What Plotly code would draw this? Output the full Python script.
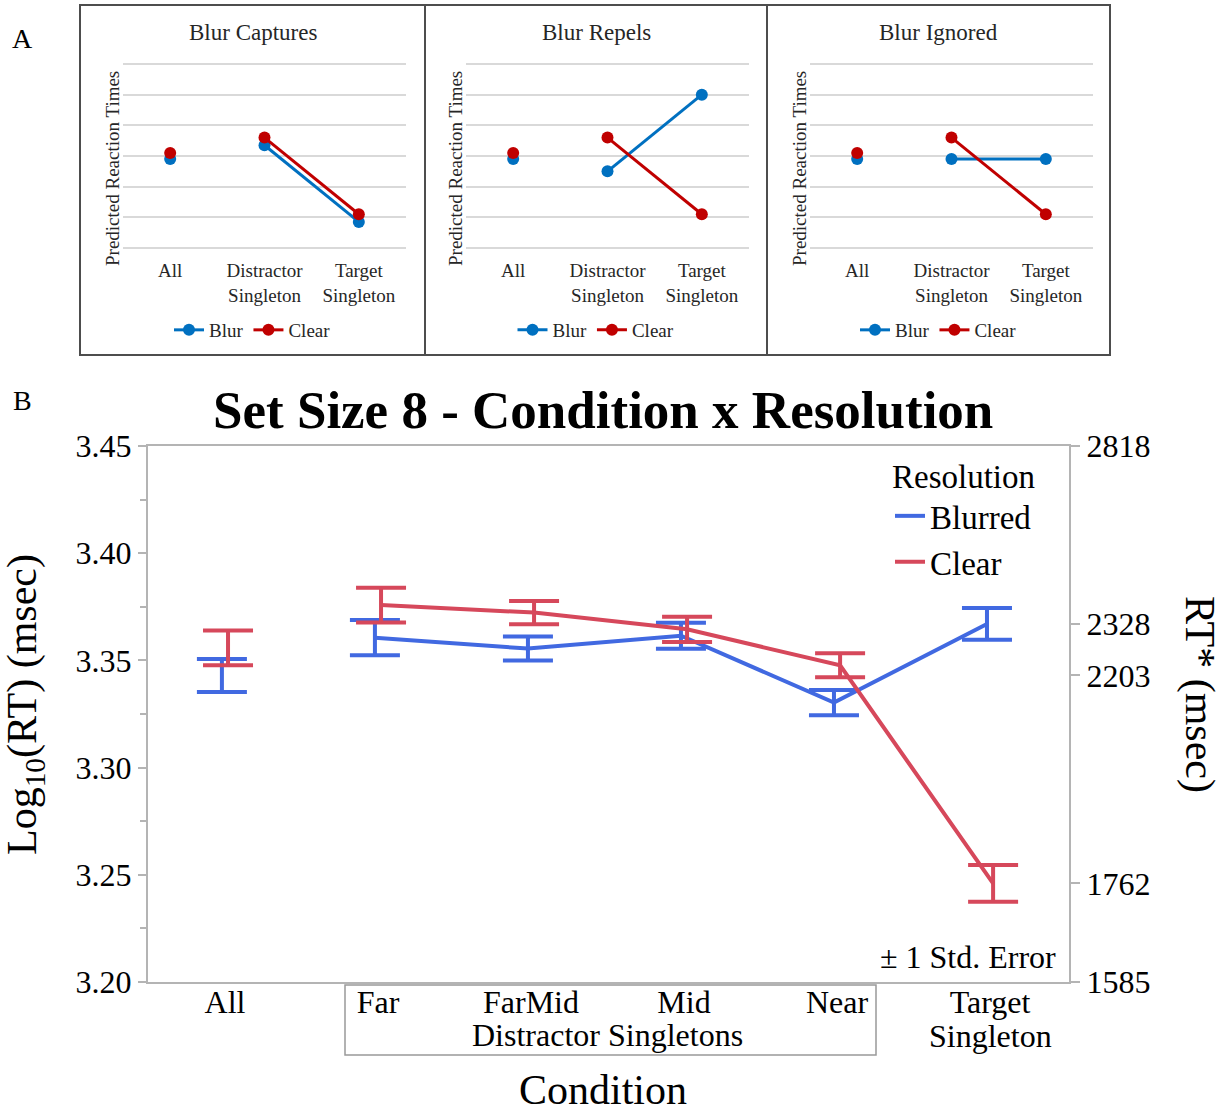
import math
import plotly.graph_objects as go

# ---------------- data ----------------
# Panel A: hypothetical predicted reaction times (arbitrary units)
a_categories = ["All", "Distractor<br>Singleton", "Target<br>Singleton"]
a_titles = ["Blur Captures", "Blur Repels", "Blur Ignored"]
captures_blur = [2.9, 3.35, 0.85]
captures_clear = [3.1, 3.6, 1.1]
repels_blur = [2.9, 2.5, 5.0]
repels_clear = [3.1, 3.6, 1.1]
ignored_blur = [2.9, 2.9, 2.9]
ignored_clear = [3.1, 3.6, 1.1]

# Panel B: set size 8, log10 RT means with standard errors
b_conditions = ["All", "Far", "FarMid", "Mid", "Near", "Target"]
b_group_label = "Distractor Singletons"
b_target_second_line = "Singleton"
blurred_log_rt = [3.343, 3.3606, 3.3555, 3.3615, 3.3303, 3.367]
blurred_se = [0.0077, 0.0082, 0.0056, 0.0061, 0.0059, 0.0074]
clear_log_rt = [3.3558, 3.3758, 3.3723, 3.3645, 3.3477, 3.246]
clear_se = [0.0081, 0.0081, 0.0054, 0.0059, 0.0056, 0.0086]
left_ticks = [3.20, 3.25, 3.30, 3.35, 3.40, 3.45]
rt_ticks = [1585, 1762, 2203, 2328, 2818]

# ---------------- geometry helpers ----------------
W, H = 1231, 1112
SERIF = "Liberation Serif, Times New Roman, serif"


def px(x):
    return x / W


def py(y):
    return 1 - y / H


A_BLUE = "rgb(0,112,192)"
A_RED = "rgb(192,0,0)"
B_BLUE = "#4169E1"
B_RED = "#D6485B"
GRAY = "#b4b4b4"

fig = go.Figure()
fig.update_layout(template="none")

# ---------------- panel A ----------------
panel_a = [
    (captures_blur, captures_clear, (123, 406), (80, 425)),
    (repels_blur, repels_clear, (466, 749), (425, 767)),
    (ignored_blur, ignored_clear, (810, 1093), (767, 1110)),
]
a_pos = list(range(len(a_categories)))

for i, (blur, clear, (x0, x1), (bx0, bx1)) in enumerate(panel_a):
    sfx = "" if i == 0 else str(i + 1)
    xa, ya = "x" + sfx, "y" + sfx
    leg = "legend" + sfx
    for name, vals, col in (("Blur", blur, A_BLUE), ("Clear", clear, A_RED)):
        # isolated "All" point
        fig.add_trace(go.Scatter(
            x=a_pos[:1], y=vals[:1], mode="markers", xaxis=xa, yaxis=ya,
            marker=dict(color=col, size=12), showlegend=False, hoverinfo="skip"))
        # distractor singleton -> target singleton
        fig.add_trace(go.Scatter(
            x=a_pos[1:], y=vals[1:], mode="lines+markers", xaxis=xa, yaxis=ya,
            name=name, legend=leg,
            line=dict(color=col, width=3), marker=dict(color=col, size=12)))

    fig.update_layout({
        "xaxis" + sfx: dict(domain=[px(x0), px(x1)], range=[-0.5, 2.5],
                            tickvals=a_pos, ticktext=a_categories, showgrid=False,
                            zeroline=False, showline=False, ticks="", anchor=ya,
                            automargin=False,
                            tickfont=dict(family=SERIF, size=19, color="#262626")),
        "yaxis" + sfx: dict(domain=[py(257.2), py(54.8)], range=[-0.3, 6.3],
                            dtick=1, tick0=0, showticklabels=False, showgrid=True,
                            gridcolor="#d9d9d9", gridwidth=1.5, zeroline=False,
                            showline=False, ticks="", anchor=xa, automargin=False),
        leg: dict(orientation="h", x=px((bx0 + bx1) / 2), xanchor="center",
                  y=py(311), yanchor="top", bgcolor="rgba(0,0,0,0)",
                  font=dict(family=SERIF, size=19, color="#262626"),
                  itemwidth=30, tracegroupgap=0),
    })
    fig.add_shape(type="rect", xref="paper", yref="paper",
                  x0=px(bx0), x1=px(bx1), y0=py(355), y1=py(5),
                  line=dict(color="#4d4d4d", width=2))
    fig.add_annotation(text=a_titles[i], xref="paper", yref="paper",
                       x=px((bx0 + bx1) / 2), y=py(32), xanchor="center",
                       yanchor="middle", showarrow=False,
                       font=dict(family=SERIF, size=23, color="#262626"))
    fig.add_annotation(text="Predicted Reaction Times", xref="paper", yref="paper",
                       x=px(x0 - 11), y=py(169), xanchor="center", yanchor="middle",
                       textangle=-90, showarrow=False,
                       font=dict(family=SERIF, size=19, color="#262626"))

# ---------------- panel B ----------------
b_pos = list(range(len(b_conditions)))
shift = 0.02
for name, vals, se, col, dx in (("Blurred", blurred_log_rt, blurred_se, B_BLUE, -shift),
                                ("Clear", clear_log_rt, clear_se, B_RED, shift)):
    xs = [p + dx for p in b_pos]
    fig.add_trace(go.Scatter(
        x=xs[:1], y=vals[:1], mode="lines", xaxis="x4", yaxis="y4",
        line=dict(color=col, width=4), showlegend=False, hoverinfo="skip",
        error_y=dict(type="data", array=se[:1], color=col, thickness=4, width=25)))
    fig.add_trace(go.Scatter(
        x=xs[1:], y=vals[1:], mode="lines", xaxis="x4", yaxis="y4",
        name=name, legend="legend4", line=dict(color=col, width=4),
        error_y=dict(type="data", array=se[1:], color=col, thickness=4, width=25)))

# right-hand RT axis shares the log scale
fig.add_trace(go.Scatter(x=[], y=[], xaxis="x4", yaxis="y5", showlegend=False,
                         hoverinfo="skip"))

tick_font = dict(family=SERIF, size=32, color="black")
fig.update_layout(
    xaxis4=dict(domain=[px(148), px(1069)], range=[-0.503, 5.516], anchor="y4",
                tickvals=b_pos, ticktext=b_conditions, ticks="", showgrid=False,
                zeroline=False, showline=True, mirror=True, linecolor=GRAY,
                linewidth=2, tickfont=tick_font, automargin=False,
                ticklabelstandoff=-9),
    yaxis4=dict(domain=[py(982), py(446)], range=[3.20, 3.45], anchor="x4",
                tickvals=left_ticks, ticktext=[f"{v:.2f}" for v in left_ticks],
                ticks="outside", ticklen=8, tickwidth=1.5, tickcolor=GRAY,
                minor=dict(tick0=3.2, dtick=0.025, ticks="outside", ticklen=6,
                           tickcolor=GRAY, tickwidth=1.5, showgrid=False),
                showgrid=False, zeroline=False, showline=True, mirror=True,
                linecolor=GRAY, linewidth=2, tickfont=tick_font, automargin=False),
    yaxis5=dict(overlaying="y4", side="right", anchor="x4", range=[3.20, 3.45],
                tickvals=[math.log10(v) for v in rt_ticks],
                ticktext=[str(v) for v in rt_ticks], ticks="outside", ticklen=10,
                tickwidth=1.5, tickcolor=GRAY, showgrid=False, zeroline=False,
                showline=False, tickfont=tick_font, automargin=False),
    legend4=dict(title=dict(text="Resolution", side="top",
                            font=dict(family=SERIF, size=33, color="black")),
                 x=px(890), xanchor="left", y=py(445), yanchor="top",
                 bgcolor="rgba(0,0,0,0)", itemwidth=30,
                 font=dict(family=SERIF, size=33, color="black")),
)

fig.add_shape(type="rect", xref="paper", yref="paper",
              x0=px(345), x1=px(876), y0=py(1055), y1=py(985),
              line=dict(color="#999999", width=1.5))

# second line of the target-singleton category and the distractor group label
fig.add_annotation(text=b_target_second_line, xref="x4", yref="paper",
                   x=b_pos[-1], y=py(1036), xanchor="center", yanchor="middle",
                   showarrow=False, font=tick_font)
fig.add_annotation(text=b_group_label, xref="x4", yref="paper",
                   x=(b_pos[2] + b_pos[3]) / 2, y=py(1035), xanchor="center",
                   yanchor="middle", showarrow=False, font=tick_font)

b_notes = [
    ("A", 22, 38, 28, 0),
    ("B", 22, 400, 28, 0),
    ("<b>Set Size 8 - Condition x Resolution</b>", 603, 410, 53, 0),
    ("Log<sub>10</sub>(RT) (msec)", 25, 705, 42, -90),
    ("RT* (msec)", 1200, 694, 42, 90),
    ("Condition", 603, 1090, 42, 0),
]
for text, x, y, size, ang in b_notes:
    fig.add_annotation(text=text, xref="paper", yref="paper", x=px(x), y=py(y),
                       xanchor="center", yanchor="middle", textangle=ang,
                       showarrow=False,
                       font=dict(family=SERIF, size=size, color="black"))
fig.add_annotation(text="± 1 Std. Error", xref="paper", yref="paper",
                   x=px(1058), y=py(957), xanchor="right", yanchor="middle",
                   showarrow=False, font=dict(family=SERIF, size=32, color="black"))

fig.update_layout(width=W, height=H, margin=dict(l=0, r=0, t=0, b=0, pad=0),
                  paper_bgcolor="white", plot_bgcolor="white")

fig.write_html("out.html")
